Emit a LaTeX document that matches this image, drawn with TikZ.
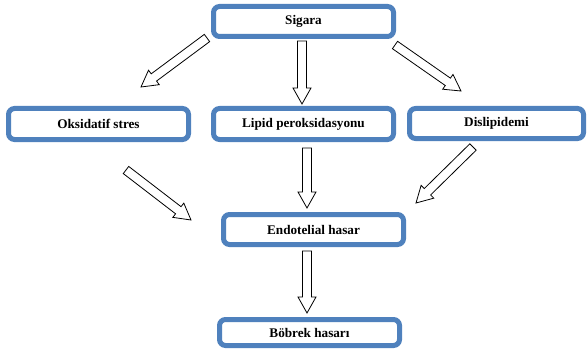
\documentclass[tikz,border=0pt]{standalone}
\usepackage{fontspec}
\setmainfont{Liberation Serif}
\usetikzlibrary{calc}
\definecolor{boxblue}{HTML}{4F81BD}
\tikzset{
  box/.style={draw=boxblue, line width=5pt, rounded corners=6pt, fill=white,
    minimum width=#1, minimum height=30pt, inner sep=0pt,
    font=\fontsize{13.2}{15}\selectfont\bfseries},
  box/.default=180pt,
  blockarr/.style={draw=black, line width=0.8pt, fill=white, line join=miter}
}
\newcommand{\blockarrow}[2]{%
  \draw[blockarr] let \p1=($(#2)-(#1)$), \n1={atan2(\y1,\x1)}, \n2={veclen(\x1,\y1)} in
    ($(#1)+({\n1+90}:4.5pt)$) --
    ($(#1)+({\n1}:{(\n2-16)*1pt})+({\n1+90}:4.5pt)$) --
    ($(#1)+({\n1}:{(\n2-16)*1pt})+({\n1+90}:9pt)$) --
    (#2) --
    ($(#1)+({\n1}:{(\n2-16)*1pt})+({\n1-90}:9pt)$) --
    ($(#1)+({\n1}:{(\n2-16)*1pt})+({\n1-90}:4.5pt)$) --
    ($(#1)+({\n1-90}:4.5pt)$) -- cycle;}
\begin{document}
\begin{tikzpicture}[x=1pt, y=-1pt]
  \useasboundingbox (0,0) rectangle (587,353);
  \node[box] (sig) at (303.5,21.5) {Sigara};
  \node[box, minimum height=31pt] (oks) at (98.5,124) {Oksidatif stres};
  \node[box, minimum height=31pt] (lip) at (303.5,124) {Lipid peroksidasyonu};
  \node[box=174pt] (dis) at (496.5,123.5) {Dislipidemi};
  \node[box] (end) at (313.5,229.5) {Endotelial hasar};
  \node[box, minimum height=26pt] (bob) at (309.5,332.5) {Böbrek hasarı};
  % arrow end points
  \coordinate (a1s) at (207,38);  \coordinate (a1e) at (141,87);
  \coordinate (a2s) at (302,41);  \coordinate (a2e) at (302,104);
  \coordinate (a3s) at (395,45);  \coordinate (a3e) at (461,91);
  \coordinate (a4s) at (126,170); \coordinate (a4e) at (191,220);
  \coordinate (a5s) at (307,148); \coordinate (a5e) at (307,208);
  \coordinate (a6s) at (473,147); \coordinate (a6e) at (416,203);
  \coordinate (a7s) at (307,251); \coordinate (a7e) at (307,313);
  \blockarrow{a1s}{a1e}
  \blockarrow{a2s}{a2e}
  \blockarrow{a3s}{a3e}
  \blockarrow{a4s}{a4e}
  \blockarrow{a5s}{a5e}
  \blockarrow{a6s}{a6e}
  \blockarrow{a7s}{a7e}
\end{tikzpicture}
\end{document}
